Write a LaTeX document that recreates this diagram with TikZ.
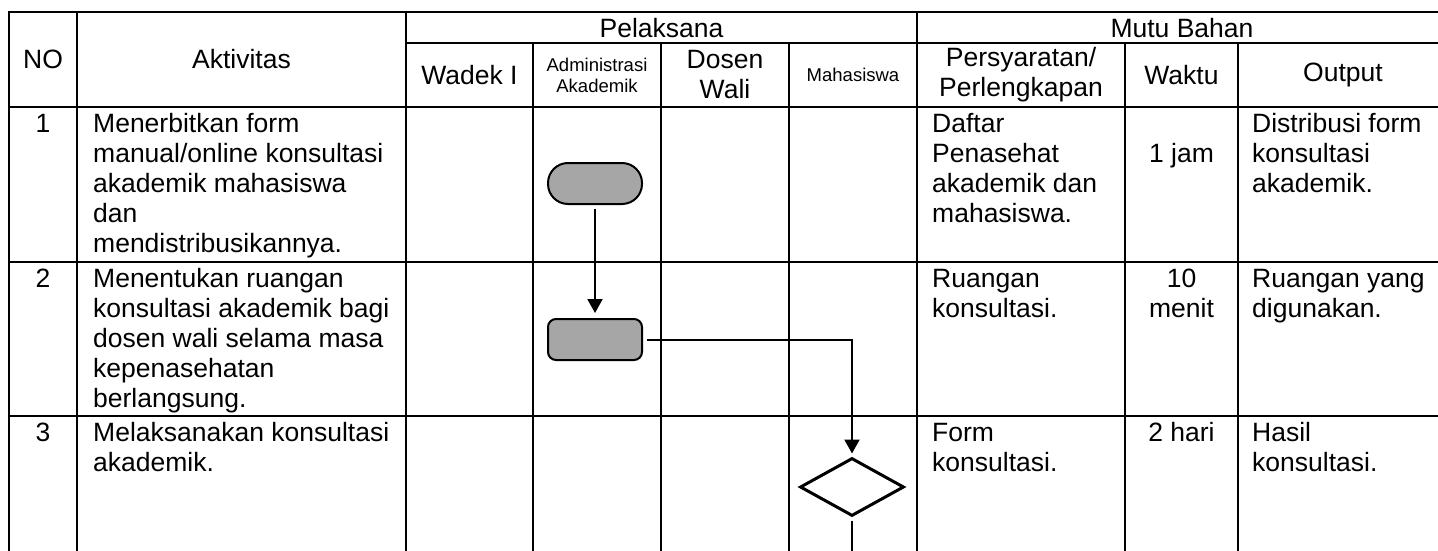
\documentclass[tikz,border=0pt]{standalone}
\usepackage{fontspec}
\setmainfont{Liberation Sans}
\usetikzlibrary{arrows.meta,shapes.geometric}
\newcommand{\myfirstline}{\rule{0pt}{21pt}}
\begin{document}
\begin{tikzpicture}[x=1pt,y=-1pt,
  grid/.style={line width=2pt},
  body/.style={font=\fontsize{26.5}{30}\selectfont, inner sep=0pt, align=left, anchor=north west},
  num/.style={font=\fontsize{26.5}{30}\selectfont, inner sep=0pt, align=center, anchor=north},
  head/.style={font=\fontsize{26.5}{30}\selectfont, inner sep=0pt, align=center},
  smallhead/.style={font=\fontsize{18.5}{21}\selectfont, inner sep=0pt, align=center},
  term/.style={draw, line width=2pt, fill=black!35, minimum width=94pt, minimum height=41pt, rounded corners=20pt, inner sep=0pt},
  proc/.style={draw, line width=2pt, fill=black!35, minimum width=94pt, minimum height=41pt, rounded corners=8pt, inner sep=0pt},
  dec/.style={diamond, draw, line width=3pt, minimum width=104pt, minimum height=58pt, inner sep=0pt},
  flow/.style={line width=2pt},
  arr/.style={flow, -{Triangle[width=15pt,length=14pt]}}
]
\useasboundingbox (0,0) rectangle (1438,551);
% grid
\draw[grid] (8,12) -- (1438,12);
\draw[grid] (406,43) -- (1438,43);
\draw[grid] (8,107) -- (1438,107);
\draw[grid] (8,262) -- (1438,262);
\draw[grid] (8,416) -- (1438,416);
\foreach \x in {9,77,406,917} \draw[grid] (\x,11) -- (\x,551);
\foreach \x in {533,661,789,1125,1238} \draw[grid] (\x,43) -- (\x,551);
% headers
\node[head] (hNO) at (43,59.5) {NO};
\node[head] (hAkt) at (241.5,59.5) {Aktivitas};
\node[head] (hPel) at (661.5,28) {Pelaksana};
\node[head] (hMutu) at (1182,28) {Mutu Bahan};
\node[head] (hWadek) at (469.5,75) {Wadek I};
\node[smallhead] (hAdm) at (597,75) {Administrasi\\Akademik};
\node[head] (hDosen) at (725,75) {Dosen\\Wali};
\node[smallhead] (hMhs) at (853,75) {Mahasiswa};
\node[head] (hPers) at (1021,75) {Persyaratan/\\Perlengkapan};
\node[head] (hWaktu) at (1181.5,75) {Waktu};
\node[head] (hOut) at (1343,75) {Output};
% row 1
\node[num] (n1) at (43,111) {\myfirstline 1};
\node[body] (a1) at (93,111) {\myfirstline Menerbitkan form\\manual/online konsultasi\\akademik mahasiswa\\dan\\mendistribusikannya.};
\node[body] (r1) at (932,111) {\myfirstline Daftar\\Penasehat\\akademik dan\\mahasiswa.};
\node[num] (w1) at (1181.5,141) {\myfirstline 1 jam};
\node[body] (o1) at (1252,111) {\myfirstline Distribusi form\\konsultasi\\akademik.};
% row 2
\node[num] (n2) at (43,266) {\myfirstline 2};
\node[body] (a2) at (93,266) {\myfirstline Menentukan ruangan\\konsultasi akademik bagi\\dosen wali selama masa\\kepenasehatan\\berlangsung.};
\node[body] (r2) at (932,266) {\myfirstline Ruangan\\konsultasi.};
\node[num] (w2) at (1181.5,266) {\myfirstline 10\\menit};
\node[body] (o2) at (1252,266) {\myfirstline Ruangan yang\\digunakan.};
% row 3
\node[num] (n3) at (43,420) {\myfirstline 3};
\node[body] (a3) at (93,420) {\myfirstline Melaksanakan konsultasi\\akademik.};
\node[body] (r3) at (932,420) {\myfirstline Form\\konsultasi.};
\node[num] (w3) at (1181.5,420) {\myfirstline 2 hari};
\node[body] (o3) at (1252,420) {\myfirstline Hasil\\konsultasi.};
% flow shapes
\node[term] (s1) at (595,183.5) {};
\node[proc] (p2) at (595,339.5) {};
\node[dec] (d3) at (852,487) {};
\coordinate (endpt) at (852,551);
\draw[arr, shorten <=4pt, shorten >=5pt] (s1) -- (p2);
\draw[arr, shorten <=4pt, shorten >=3pt] (p2.east) -| (d3.north);
\draw[flow, shorten <=3pt] (d3.south) -- (endpt);
\end{tikzpicture}
\end{document}
